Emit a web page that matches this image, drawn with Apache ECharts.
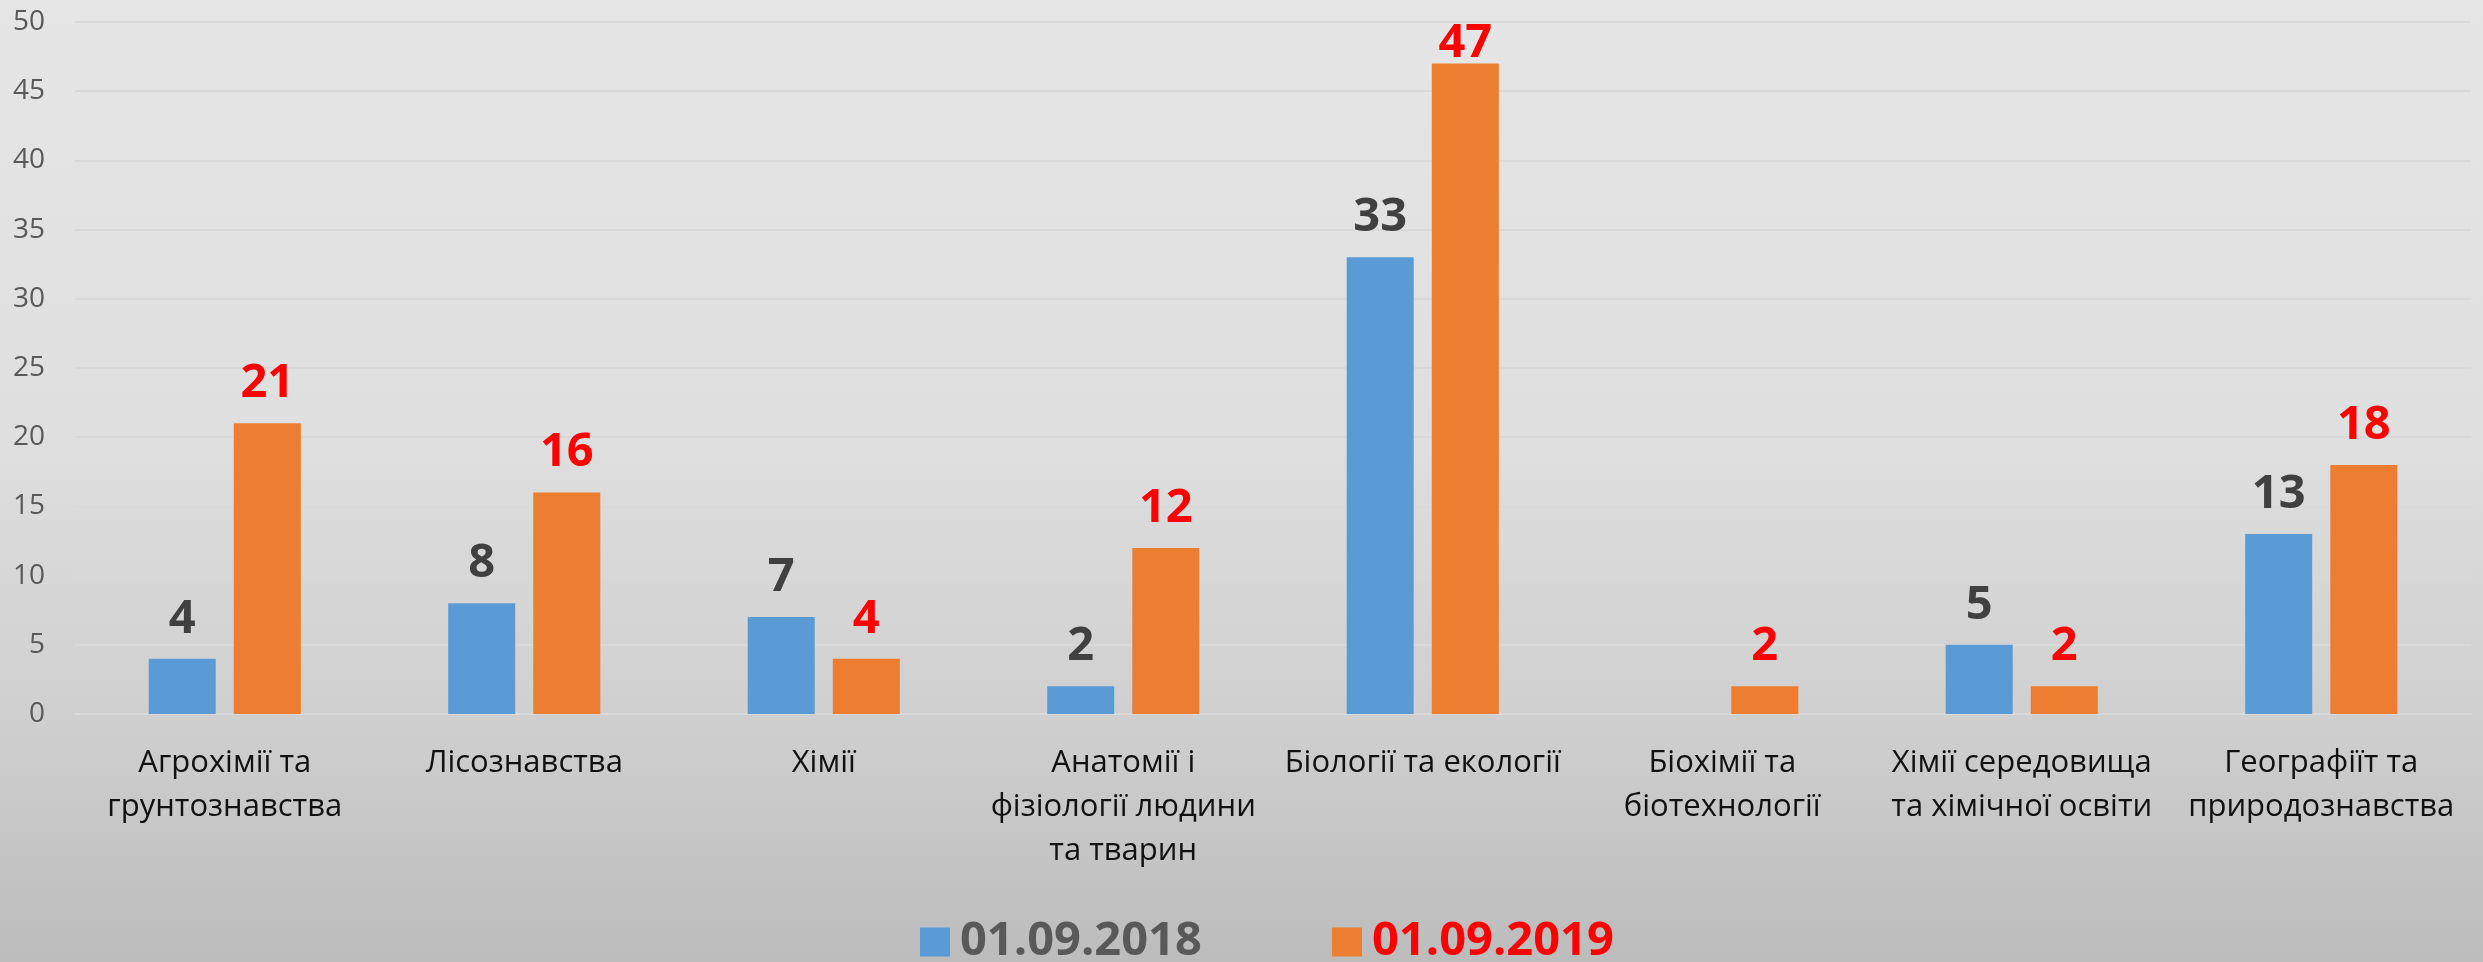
<!DOCTYPE html>
<html>
<head>
<meta charset="utf-8">
<script src="https://cdn.jsdelivr.net/npm/echarts@6/dist/echarts.min.js"></script>
<style>
  html, body { margin: 0; padding: 0; }
  #chart { width: 2483px; height: 962px; }
</style>
</head>
<body>
<div id="chart"></div>
<script>
// Departments (categories on the x axis)
const categories = [
  'Агрохімії та\nгрунтознавства',
  'Лісознавства',
  'Хімії',
  'Анатомії і\nфізіології людини\nта тварин',
  'Біології та екології',
  'Біохімії та\nбіотехнології',
  'Хімії середовища\nта хімічної освіти',
  'Географіїт та\nприродознавства'
];

// Series names (dates)
const seriesNames = ['01.09.2018', '01.09.2019'];

// Counts per department; null = no bar
const values2018 = [4, 8, 7, 2, 33, null, 5, 13];
const values2019 = [21, 16, 4, 12, 47, 2, 2, 18];

// Y axis scale
const yMin = 0;
const yMax = 50;
const yStep = 5;

const FONT = '"Open Sans", "Noto Sans", sans-serif';
const BLUE = '#5B9BD5';
const ORANGE = '#ED7D31';

// Labels near the top edge are pulled down onto their bar
function withLabels(values) {
  return values.map(v => {
    if (v === null) return '-';
    if (v > yMax - 5) return { value: v, label: { distance: -4 } };
    return v;
  });
}

const chart = echarts.init(document.getElementById('chart'), null, { renderer: 'canvas' });

const labelBase = {
  show: true,
  position: 'top',
  distance: 16,
  fontFamily: FONT,
  fontWeight: 'bold',
  fontSize: 47
};

const legendText = { fontFamily: FONT, fontWeight: 'bold', fontSize: 47, lineHeight: 54, padding: [0, 0, 0, 5] };

chart.setOption({
  animation: false,
  backgroundColor: {
    type: 'linear', x: 0, y: 0, x2: 0, y2: 1,
    colorStops: [
      { offset: 0, color: '#e6e6e6' },
      { offset: 0.45, color: '#dfdfdf' },
      { offset: 0.75, color: '#cfcfcf' },
      { offset: 1, color: '#bcbcbc' }
    ]
  },
  grid: { left: 75, right: 12, top: 22, bottom: 248, containLabel: false },
  legend: [
    {
      left: 915, top: 910,
      icon: 'rect', itemWidth: 30, itemHeight: 29, itemGap: 0,
      data: [{ name: seriesNames[0], textStyle: { color: '#595959' } }],
      textStyle: legendText
    },
    {
      left: 1327, top: 910,
      icon: 'rect', itemWidth: 30, itemHeight: 29, itemGap: 0,
      data: [{ name: seriesNames[1], textStyle: { color: '#ff0000' } }],
      textStyle: legendText
    }
  ],
  xAxis: {
    type: 'category',
    data: categories,
    axisLine: { show: true, lineStyle: { color: '#d9d9d9', width: 2 } },
    axisTick: { show: false },
    axisLabel: {
      interval: 0,
      margin: 27,
      fontFamily: FONT,
      fontSize: 31,
      lineHeight: 44,
      color: '#111111'
    }
  },
  yAxis: {
    type: 'value',
    min: yMin,
    max: yMax,
    interval: yStep,
    axisLine: { show: false },
    axisTick: { show: false },
    splitLine: { lineStyle: { color: '#d9d9d9', width: 2 } },
    axisLabel: {
      margin: 30,
      fontFamily: FONT,
      fontSize: 28,
      color: '#595959'
    }
  },
  series: [
    {
      name: seriesNames[0],
      type: 'bar',
      data: withLabels(values2018),
      barWidth: 67,
      barGap: '27%',
      itemStyle: { color: BLUE },
      label: Object.assign({}, labelBase, { color: '#404040' })
    },
    {
      name: seriesNames[1],
      type: 'bar',
      data: withLabels(values2019),
      barWidth: 67,
      barGap: '27%',
      itemStyle: { color: ORANGE },
      label: Object.assign({}, labelBase, { color: '#ff0000' })
    }
  ]
});
</script>
</body>
</html>
